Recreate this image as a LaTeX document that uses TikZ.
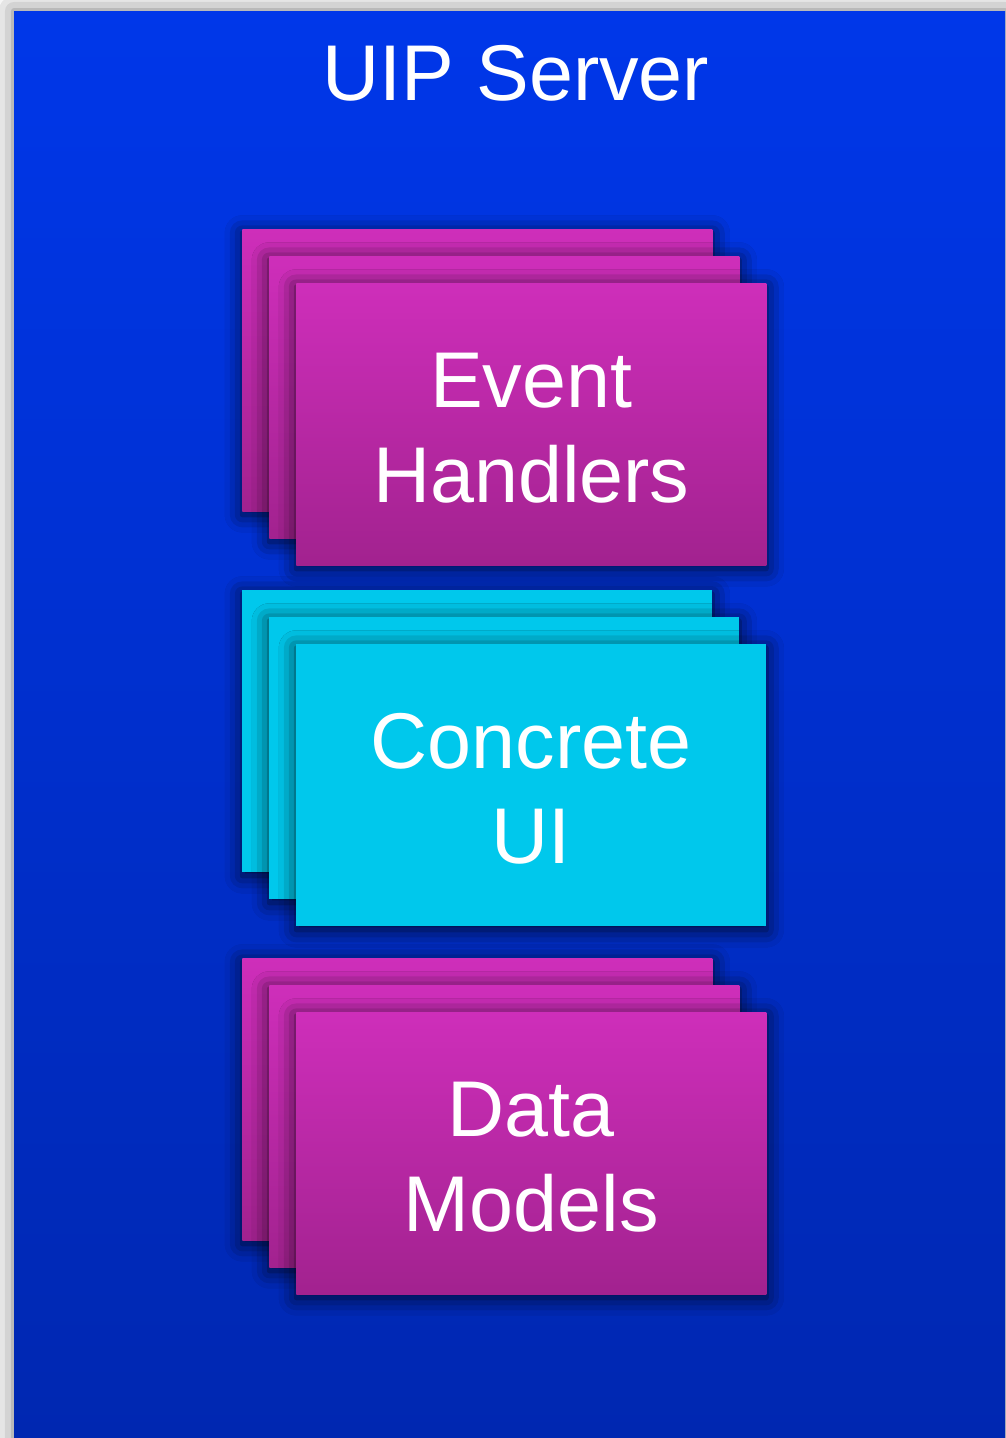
\documentclass[tikz,border=0pt]{standalone}
\usepackage{fontspec}
\setmainfont{Liberation Sans}
\usetikzlibrary{positioning,shadows.blur}

\definecolor{bgtop}{HTML}{0037E9}
\definecolor{bgbot}{HTML}{0027B0}
\definecolor{magtop}{HTML}{CE2EBA}
\definecolor{magbot}{HTML}{A2228F}
\definecolor{cyanfill}{HTML}{00C8EC}

\tikzset{
  card/.style={anchor=north west,inner sep=0pt,minimum width=9.4cm,minimum height=5.64cm,
    blur shadow={shadow xshift=0pt,shadow yshift=-2pt,shadow blur radius=10pt,shadow opacity=80}},
  magcard/.style={card,top color=magtop,bottom color=magbot},
  cyancard/.style={card,fill=cyanfill},
  cardtext/.style={text=white,font=\fontsize{45}{54}\selectfont,align=center,inner sep=0pt},
}

\begin{document}
\begin{tikzpicture}[x=0.02cm,y=-0.02cm]
%\draw[help lines] (0,0) grid[step=100] (1005,1438);
\fill[white] (0,0) rectangle (1005,1438);
\useasboundingbox (0,0) rectangle (1005,1438);
\coordinate (bgNW) at (14,11);
\coordinate (bgSE) at (1005,1460);
%
\shade[top color=bgtop,bottom color=bgbot,
  blur shadow={shadow xshift=0pt,shadow yshift=0pt,shadow blur radius=12pt,shadow opacity=55}]
  (bgNW) rectangle (bgSE);
\node[cardtext,anchor=base] (title) at (516,100) {UIP Server};
%
% event handlers
\node[magcard] (EH1) at (242,229) {};
\node[magcard] (EH2) at ([shift={(27,27)}]EH1.north west) {};
\node[magcard] (EH3) at ([shift={(27,27)}]EH2.north west) {};
\node[cardtext] (EHtext) at ([yshift=-2]EH3.center) {Event\\Handlers};
%
% concrete ui
\node[cyancard] (CU1) at (242,590) {};
\node[cyancard] (CU2) at ([shift={(27,27)}]CU1.north west) {};
\node[cyancard] (CU3) at ([shift={(27,27)}]CU2.north west) {};
\node[cardtext] (CUtext) at ([yshift=-2]CU3.center) {Concrete\\UI};
%
% data models
\node[magcard] (DM1) at (242,958) {};
\node[magcard] (DM2) at ([shift={(27,27)}]DM1.north west) {};
\node[magcard] (DM3) at ([shift={(27,27)}]DM2.north west) {};
\node[cardtext] (DMtext) at ([yshift=-2]DM3.center) {Data\\Models};
\end{tikzpicture}
\end{document}
